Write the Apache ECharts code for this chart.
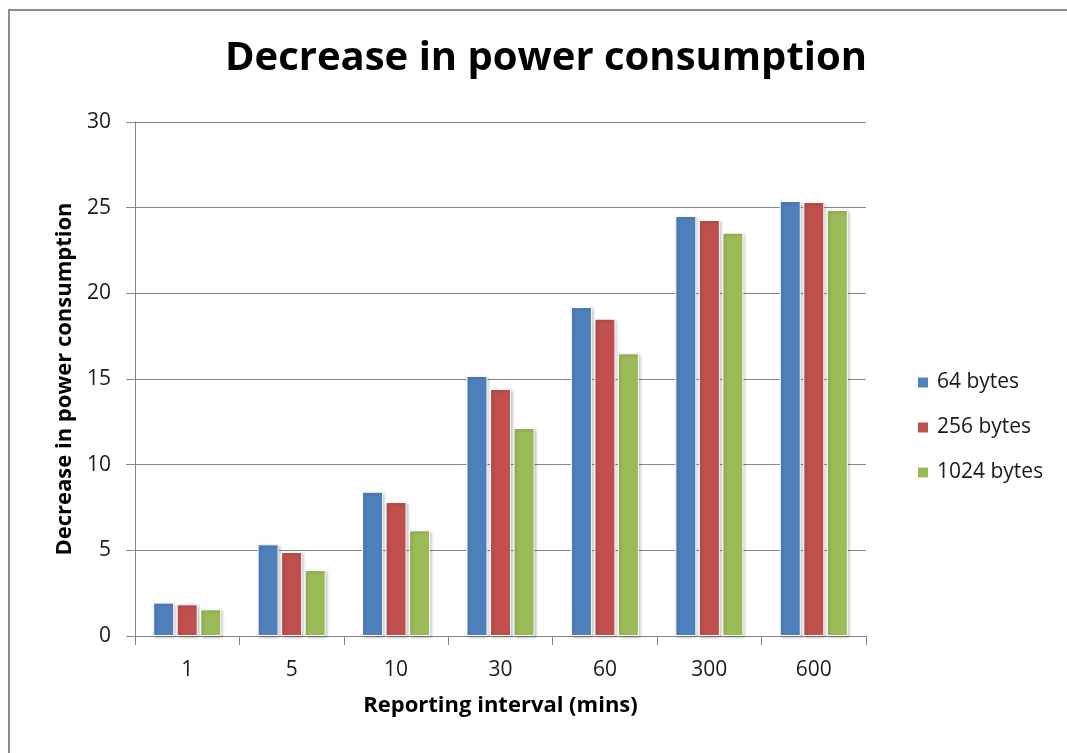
<!DOCTYPE html>
<html><head><meta charset="utf-8">
<script src="https://cdn.jsdelivr.net/npm/echarts@6/dist/echarts.min.js"></script>
<style>html,body{margin:0;padding:0;background:#fff}#c{width:1067px;height:753px}</style>
</head><body><div id="c"></div>
<script>
const categories = ['1','5','10','30','60','300','600'];
const s64 = [1.95, 5.35, 8.42, 15.18, 19.2, 24.52, 25.39];
const s256 = [1.85, 4.9, 7.82, 14.42, 18.52, 24.28, 25.33];
const s1024 = [1.56, 3.85, 6.17, 12.14, 16.5, 23.54, 24.87];
const seriesNames = ['64 bytes','256 bytes','1024 bytes'];
const colors = ['#4f81bd','#c0504d','#9bbb59'];
const FONT = 'Open Sans';
const chart = echarts.init(document.getElementById('c'));
function mk(name, data, color){
  return {name, type:'bar', data, barWidth:21, barGap:'12%',
    itemStyle:{color, borderColor:'#fff', borderWidth:1, shadowColor:'rgba(0,0,0,0.25)', shadowBlur:3, shadowOffsetX:1.5, shadowOffsetY:1.5}};
}
chart.setOption({
  animation:false,
  textStyle:{fontFamily:FONT},
  title:{text:'Decrease in power consumption', left:541, top:34, textAlign:'center',
    textStyle:{fontFamily:FONT, fontWeight:'bold', fontSize:40, color:'#000'}},
  graphic:[{type:'rect', shape:{x:9,y:10,width:1100,height:800}, style:{fill:'none', stroke:'#8c8c8c', lineWidth:2}, z:-1}],
  grid:{left:135, right:201, top:122, bottom:117},
  legend:{orient:'vertical', left:911, top:367, itemWidth:12, itemHeight:12, itemGap:24, icon:'rect',
    textStyle:{fontFamily:FONT, fontSize:21, color:'#1a1a1a', padding:[0,0,0,3]}},
  xAxis:{type:'category', data:categories,
    name:'Reporting interval (mins)', nameLocation:'middle', nameGap:59,
    nameTextStyle:{fontFamily:FONT, fontWeight:'bold', fontSize:22, color:'#000'},
    axisLine:{lineStyle:{color:'#868686', width:1}},
    axisTick:{show:true, length:9, lineStyle:{color:'#868686'}},
    axisLabel:{fontFamily:FONT, fontSize:21, color:'#1a1a1a', margin:24}},
  yAxis:{type:'value', min:0, max:30, interval:5,
    name:'Decrease in power consumption', nameLocation:'middle', nameGap:59,
    nameTextStyle:{fontFamily:FONT, fontWeight:'bold', fontSize:22, color:'#000'},
    axisLine:{show:true, lineStyle:{color:'#868686', width:1}},
    axisTick:{show:true, length:9, lineStyle:{color:'#868686'}},
    axisLabel:{fontFamily:FONT, fontSize:21, color:'#1a1a1a', margin:24},
    splitLine:{lineStyle:{color:'#868686', width:1}}},
  series:[mk(seriesNames[0], s64, colors[0]), mk(seriesNames[1], s256, colors[1]), mk(seriesNames[2], s1024, colors[2])]
});
</script></body></html>
